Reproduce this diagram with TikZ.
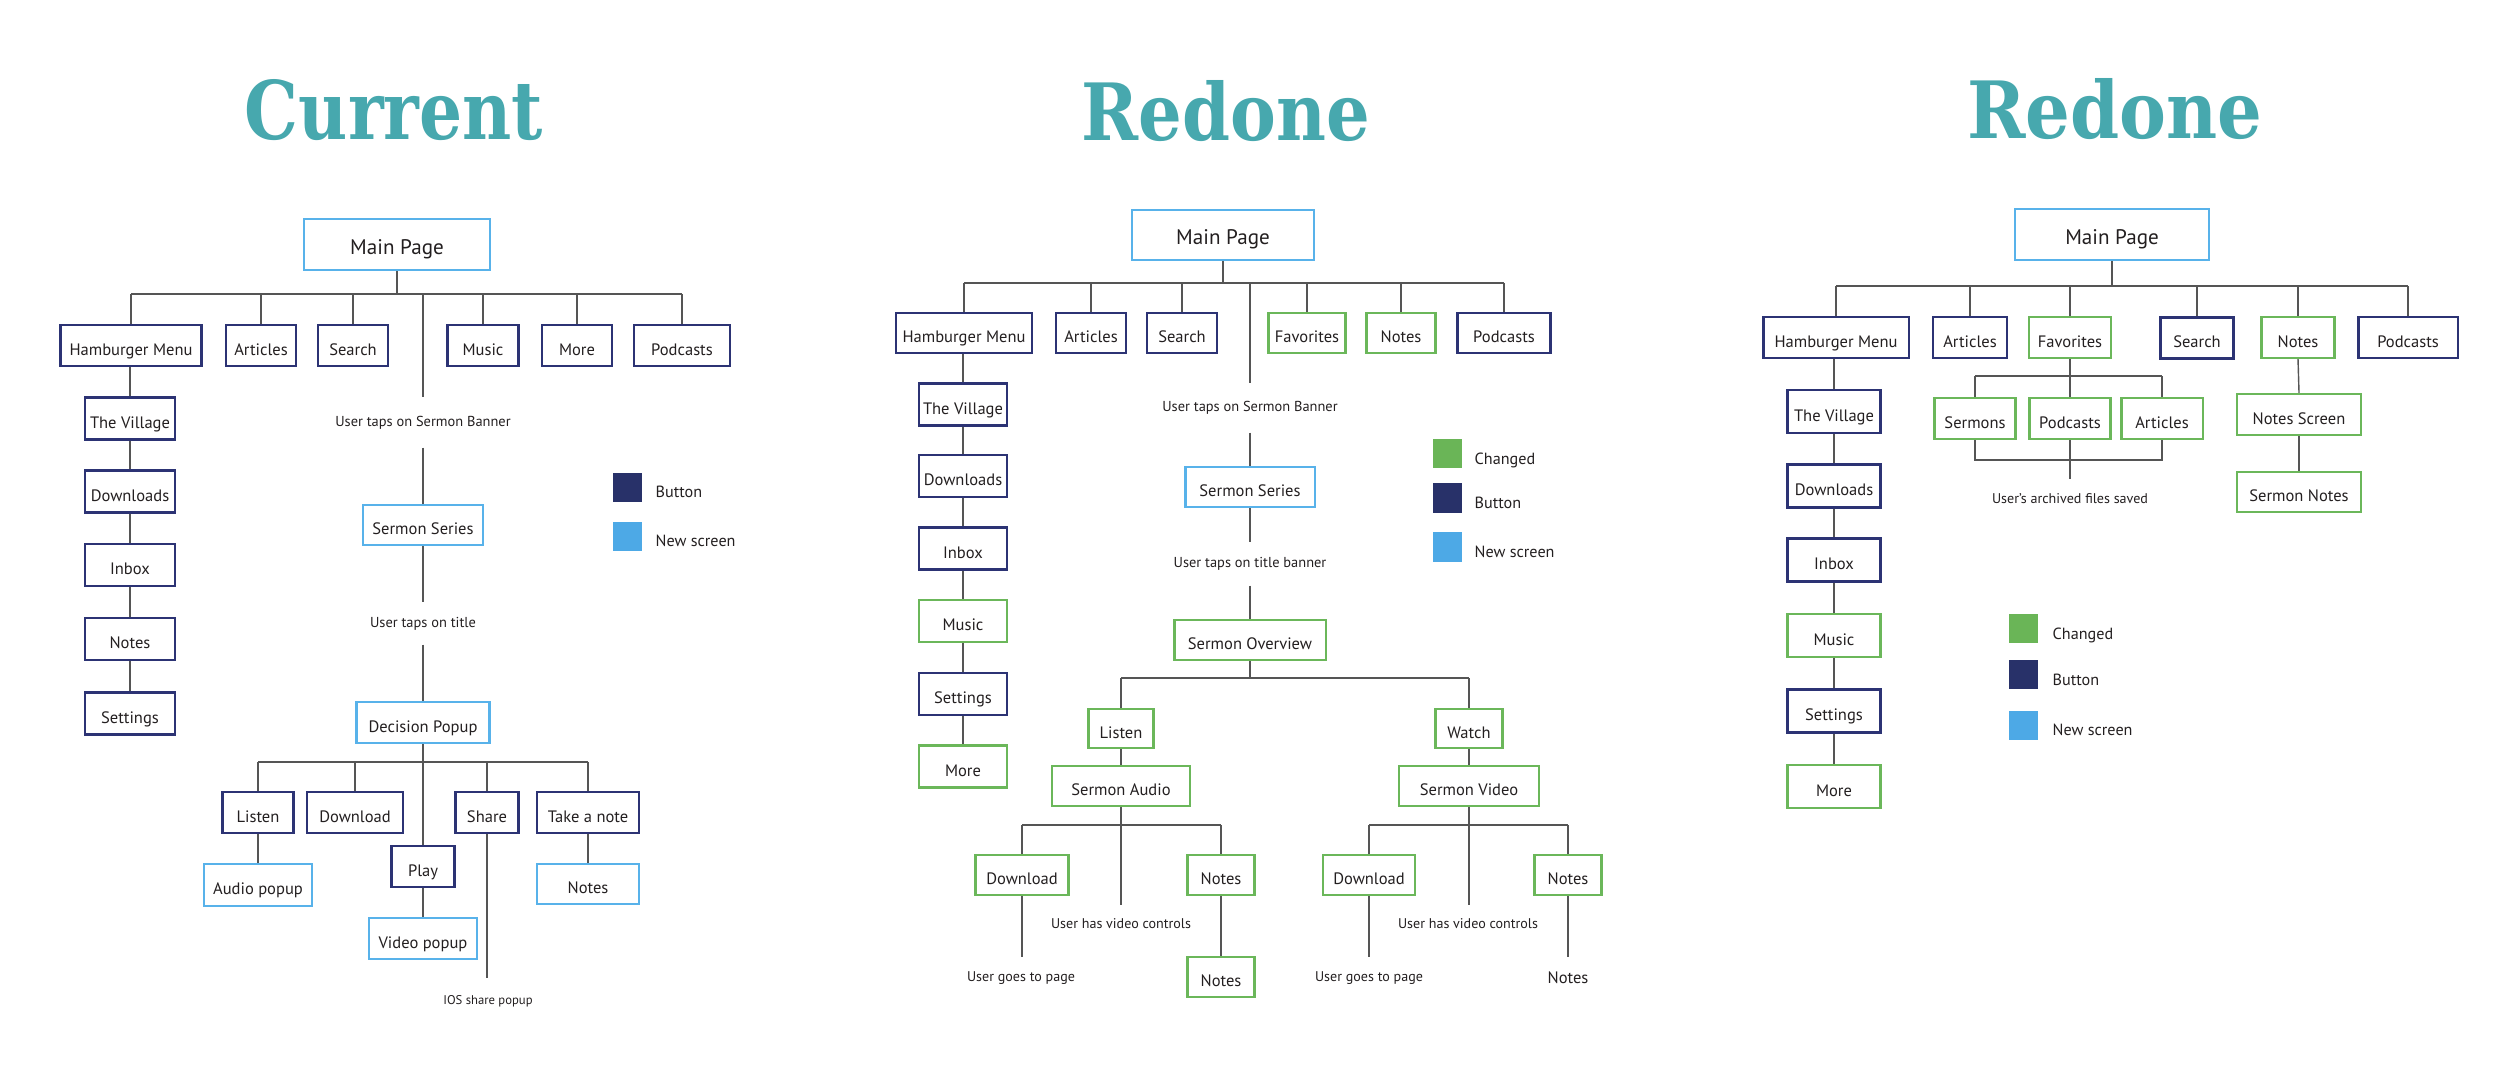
\documentclass[tikz,border=0pt]{standalone}
\usepackage{fontspec}
\usepackage{graphicx}
\setmainfont{PT Sans}
\newfontfamily\titlefont{DejaVu Serif}
\definecolor{teal}{HTML}{47A8AE}
\definecolor{navy}{HTML}{2C3374}
\definecolor{navyf}{HTML}{283169}
\definecolor{skyb}{HTML}{58B2EA}
\definecolor{skyf}{HTML}{4DA9E6}
\definecolor{grn}{HTML}{6BB75A}
\definecolor{grnf}{HTML}{6AB557}
\definecolor{linec}{HTML}{555555}
\definecolor{txt}{HTML}{231F20}
\begin{document}
\begin{tikzpicture}[x=0.01cm,y=-0.01cm,
  bx/.style={draw, line width=0.6pt, inner sep=0pt, text=txt, font=\fontsize{4.7}{5.6}\selectfont, text height=1.45ex, text depth=0.35ex, align=center},
  nv/.style={bx, draw=navy},
  sc/.style={bx, draw=skyb},
  gr/.style={bx, draw=grn},
  bw/.style={minimum width=0.1mm*#1},
  bh/.style={minimum height=0.1mm*#1},
  conn/.style={draw=linec, line width=0.4pt},
  lbl/.style={inner sep=0pt, text=txt, font=\fontsize{4.1}{5}\selectfont},
  leg/.style={inner sep=0pt, minimum size=0.1mm*29},
  legt/.style={anchor=west, inner sep=0pt, font=\fontsize{4.6}{5.5}\selectfont, text=txt, text height=1.45ex, text depth=0.35ex},
  tt/.style={anchor=base, inner sep=0pt, text=teal}
]
\useasboundingbox (0,0) rectangle (2500,1079);

% ================= Panel 1: Current =================
\node[tt] (t1) at (394,140) {\resizebox{2.98cm}{0.60cm}{\titlefont\bfseries Current}};
\node[sc, bw=186, bh=51, font=\fontsize{6}{7}\selectfont] (mp1) at (397,244.5) {Main Page};
\coordinate (b1) at (0,294);
\node[nv, bw=141, bh=41] (hm1) at (131,345.5) {Hamburger Menu};
\node[nv, bw=70, bh=41] (art1) at (261,345.5) {Articles};
\node[nv, bw=70, bh=41] (sea1) at (353,345.5) {Search};
\node[nv, bw=71, bh=41] (mus1) at (483,345.5) {Music};
\node[nv, bw=70, bh=41] (more1) at (577,345.5) {More};
\node[nv, bw=96, bh=41] (pod1) at (682,345.5) {Podcasts};
\draw[conn] (mp1.south) -- (mp1.south |- b1);
\draw[conn] (hm1.north |- b1) -- (pod1.north |- b1);
\foreach \n in {hm1,art1,sea1,mus1,more1,pod1} \draw[conn] (\n.north) -- (\n.north |- b1);

\node[nv, bw=90, bh=42] (vil1) at (130,418.5) {The Village};
\node[nv, bw=90, bh=42] (dlc1) at (130,491.5) {Downloads};
\node[nv, bw=90, bh=42] (inb1) at (130,565) {Inbox};
\node[nv, bw=90, bh=42] (nts1) at (130,639) {Notes};
\node[nv, bw=90, bh=42] (set1) at (130,713.5) {Settings};
\draw[conn] (vil1.north |- hm1.south) -- (vil1.north);
\draw[conn] (vil1.south) -- (dlc1.north);
\draw[conn] (dlc1.south) -- (inb1.north);
\draw[conn] (inb1.south) -- (nts1.north);
\draw[conn] (nts1.south) -- (set1.north);

\node[lbl, minimum height=0.1mm*49] (u1) at (423,422.5) {User taps on Sermon Banner};
\draw[conn] (u1.north |- b1) -- (u1.north);
\node[sc, bw=120, bh=40] (ss1) at (423,525) {Sermon Series};
\draw[conn] (u1.south) -- (ss1.north);
\node[lbl, minimum height=0.1mm*41] (u2) at (423,623.5) {User taps on title};
\draw[conn] (ss1.south) -- (u2.north);
\node[sc, bw=133, bh=41] (dp1) at (423,722.5) {Decision Popup};
\draw[conn] (u2.south) -- (dp1.north);

\coordinate (b2) at (0,762);
\node[nv, bw=71, bh=41] (lis1) at (258,812.5) {Listen};
\node[nv, bw=96, bh=41] (dl1) at (355,812.5) {Download};
\node[nv, bw=63, bh=41] (sh1) at (487,812.5) {Share};
\node[nv, bw=102, bh=41] (tn1) at (588,812.5) {Take a note};
\draw[conn] (lis1.north |- b2) -- (tn1.north |- b2);
\foreach \n in {lis1,dl1,sh1,tn1} \draw[conn] (\n.north) -- (\n.north |- b2);
\node[nv, bw=63, bh=41] (play1) at (423,866.5) {Play};
\draw[conn] (dp1.south) -- (play1.north);
\node[sc, bw=108, bh=41] (vp1) at (423,938.5) {Video popup};
\draw[conn] (play1.south) -- (vp1.north);
\node[sc, bw=108, bh=42] (ap1) at (258,885) {Audio popup};
\draw[conn] (lis1.south) -- (ap1.north);
\node[sc, bw=102, bh=40] (ntp1) at (588,884) {Notes};
\draw[conn] (tn1.south) -- (ntp1.north);
\coordinate (e1) at (487,978);
\draw[conn] (sh1.south) -- (e1);
\node[lbl, font=\fontsize{3.6}{4.5}\selectfont] (ios) at (488,1001) {IOS share popup};

\node[leg, fill=navyf] (lb1) at (627.5,487.5) {};
\node[legt] (lbt1) at (655,488) {Button};
\node[leg, fill=skyf] (ln1) at (627.5,536.5) {};
\node[legt] (lnt1) at (655,537) {New screen};

% ================= Panel 2: Redone =================
\node[tt] (t2) at (1226,140) {\resizebox{2.88cm}{0.60cm}{\titlefont\bfseries Redone}};
\node[sc, bw=182, bh=50, font=\fontsize{6}{7}\selectfont] (mp2) at (1223,235) {Main Page};
\coordinate (c1) at (0,283);
\node[nv, bw=136, bh=40] (hm2) at (964,333) {Hamburger Menu};
\node[nv, bw=70, bh=40] (art2) at (1091,333) {Articles};
\node[nv, bw=70, bh=40] (sea2) at (1182,333) {Search};
\node[gr, bw=77, bh=40] (fav2) at (1307,333) {Favorites};
\node[gr, bw=69, bh=40] (not2) at (1401,333) {Notes};
\node[nv, bw=93, bh=40] (pod2) at (1504,333) {Podcasts};
\draw[conn] (mp2.south) -- (mp2.south |- c1);
\draw[conn] (hm2.north |- c1) -- (pod2.north |- c1);
\foreach \n in {hm2,art2,sea2,fav2,not2,pod2} \draw[conn] (\n.north) -- (\n.north |- c1);

\node[nv, bw=88, bh=42] (vil2) at (963,404.5) {The Village};
\node[nv, bw=88, bh=42] (dlc2) at (963,476) {Downloads};
\node[nv, bw=88, bh=42] (inb2) at (963,548.5) {Inbox};
\node[gr, bw=88, bh=42] (mus2) at (963,621) {Music};
\node[nv, bw=88, bh=42] (set2) at (963,694) {Settings};
\node[gr, bw=88, bh=42] (more2) at (963,766.5) {More};
\draw[conn] (vil2.north |- hm2.south) -- (vil2.north);
\draw[conn] (vil2.south) -- (dlc2.north);
\draw[conn] (dlc2.south) -- (inb2.north);
\draw[conn] (inb2.south) -- (mus2.north);
\draw[conn] (mus2.south) -- (set2.north);
\draw[conn] (set2.south) -- (more2.north);

\node[lbl, minimum height=0.1mm*48] (v1) at (1250,408) {User taps on Sermon Banner};
\draw[conn] (v1.north |- c1) -- (v1.north);
\node[sc, bw=129, bh=40] (ss2) at (1250,487) {Sermon Series};
\draw[conn] (v1.south) -- (ss2.north);
\node[lbl, minimum height=0.1mm*42] (v2) at (1250,564) {User taps on title banner};
\draw[conn] (ss2.south) -- (v2.north);
\node[gr, bw=151, bh=40] (so2) at (1250,640) {Sermon Overview};
\draw[conn] (v2.south) -- (so2.north);

\coordinate (c2) at (0,678);
\node[gr, bw=65, bh=39] (lis2) at (1121,728.5) {Listen};
\node[gr, bw=67, bh=39] (wat2) at (1469,728.5) {Watch};
\draw[conn] (so2.south) -- (so2.south |- c2);
\draw[conn] (lis2.north |- c2) -- (wat2.north |- c2);
\draw[conn] (lis2.north) -- (lis2.north |- c2);
\draw[conn] (wat2.north) -- (wat2.north |- c2);
\node[gr, bw=138, bh=40] (sa2) at (1121,786) {Sermon Audio};
\node[gr, bw=140, bh=40] (sv2) at (1469,786) {Sermon Video};
\draw[conn] (lis2.south) -- (sa2.north);
\draw[conn] (wat2.south) -- (sv2.north);

\coordinate (c3) at (0,825);
\node[gr, bw=93, bh=40] (dla2) at (1022,875) {Download};
\node[gr, bw=67, bh=40] (nta2) at (1221,875) {Notes};
\draw[conn] (dla2.north |- c3) -- (nta2.north |- c3);
\draw[conn] (dla2.north) -- (dla2.north |- c3);
\draw[conn] (nta2.north) -- (nta2.north |- c3);
\coordinate (ea1) at (1121,905);
\draw[conn] (sa2.south) -- (ea1);
\node[lbl, font=\fontsize{4}{5}\selectfont] (hv1) at (1121,924) {User has video controls};
\coordinate (ea2) at (1022,957);
\draw[conn] (dla2.south) -- (ea2);
\node[lbl, font=\fontsize{4}{5}\selectfont] (gp1) at (1021,978) {User goes to page};
\node[gr, bw=67, bh=40] (ntb2) at (1221,977) {Notes};
\draw[conn] (nta2.south) -- (ntb2.north);

\node[gr, bw=92, bh=40] (dlv2) at (1369,875) {Download};
\node[gr, bw=67, bh=40] (ntv2) at (1568,875) {Notes};
\draw[conn] (dlv2.north |- c3) -- (ntv2.north |- c3);
\draw[conn] (dlv2.north) -- (dlv2.north |- c3);
\draw[conn] (ntv2.north) -- (ntv2.north |- c3);
\coordinate (ev1) at (1469,905);
\draw[conn] (sv2.south) -- (ev1);
\node[lbl, font=\fontsize{4}{5}\selectfont] (hv2) at (1468,924) {User has video controls};
\coordinate (ev2) at (1369,957);
\draw[conn] (dlv2.south) -- (ev2);
\node[lbl, font=\fontsize{4}{5}\selectfont] (gp2) at (1369,978) {User goes to page};
\coordinate (ev3) at (1568,957);
\draw[conn] (ntv2.south) -- (ev3);
\node[lbl, font=\fontsize{4.7}{5.6}\selectfont] (ntl2) at (1568,978) {Notes};

\node[leg, fill=grnf] (lc2) at (1447.5,453.5) {};
\node[legt] (lct2) at (1474,455) {Changed};
\node[leg, fill=navyf] (lb2) at (1447.5,498) {};
\node[legt] (lbt2) at (1474,499) {Button};
\node[leg, fill=skyf] (ln2) at (1447.5,547) {};
\node[legt] (lnt2) at (1474,548) {New screen};

% ================= Panel 3: Redone =================
\node[tt] (t3) at (2115,139) {\resizebox{2.95cm}{0.60cm}{\titlefont\bfseries Redone}};
\node[sc, bw=194, bh=51, font=\fontsize{6}{7}\selectfont] (mp3) at (2112,234.5) {Main Page};
\coordinate (d1) at (0,286);
\node[nv, bw=145, bh=41] (hm3) at (1836,337.5) {Hamburger Menu};
\node[nv, bw=74, bh=41] (art3) at (1970,337.5) {Articles};
\node[gr, bw=82, bh=41] (fav3) at (2070,337.5) {Favorites};
\node[nv, bw=73, bh=41] (sea3) at (2197,338) {Search};
\node[gr, bw=73, bh=41] (not3) at (2298,337.5) {Notes};
\node[nv, bw=99, bh=41] (pod3) at (2408,337.5) {Podcasts};
\draw[conn] (mp3.south) -- (mp3.south |- d1);
\draw[conn] (hm3.north |- d1) -- (pod3.north |- d1);
\foreach \n in {hm3,art3,fav3,sea3,not3,pod3} \draw[conn] (\n.north) -- (\n.north |- d1);

\node[nv, bw=93, bh=43] (vil3) at (1834,411.5) {The Village};
\node[nv, bw=93, bh=43] (dlc3) at (1834,486) {Downloads};
\node[nv, bw=93, bh=43] (inb3) at (1834,560) {Inbox};
\node[gr, bw=93, bh=43] (mus3) at (1834,635.5) {Music};
\node[nv, bw=93, bh=43] (set3) at (1834,711) {Settings};
\node[gr, bw=93, bh=43] (more3) at (1834,786.5) {More};
\draw[conn] (vil3.north |- hm3.south) -- (vil3.north);
\draw[conn] (vil3.south) -- (dlc3.north);
\draw[conn] (dlc3.south) -- (inb3.north);
\draw[conn] (inb3.south) -- (mus3.north);
\draw[conn] (mus3.south) -- (set3.north);
\draw[conn] (set3.south) -- (more3.north);

\coordinate (d2) at (0,376);
\coordinate (d3) at (0,460);
\node[gr, bw=81, bh=41] (ser3) at (1975,418.5) {Sermons};
\node[gr, bw=81, bh=41] (podc3) at (2070,418.5) {Podcasts};
\node[gr, bw=81, bh=41] (artc3) at (2162,418.5) {Articles};
\draw[conn] (fav3.south) -- (podc3.north);
\draw[conn] (ser3.north |- d2) -- (artc3.north |- d2);
\draw[conn] (ser3.north) -- (ser3.north |- d2);
\draw[conn] (artc3.north) -- (artc3.north |- d2);
\draw[conn] (ser3.south) -- (ser3.south |- d3) -- (artc3.south |- d3) -- (artc3.south);
\coordinate (f1) at (2070,479);
\draw[conn] (podc3.south) -- (f1);
\node[lbl, font=\fontsize{4}{5}\selectfont] (arc3) at (2070,499) {User’s archived files saved};

\node[gr, bw=124, bh=41] (ns3) at (2299,414.5) {Notes Screen};
\node[gr, bw=124, bh=40] (sn3) at (2299,492) {Sermon Notes};
\draw[conn] (not3.south) -- (ns3.north);
\draw[conn] (ns3.south) -- (sn3.north);

\node[leg, fill=grnf] (lc3) at (2023.5,628.5) {};
\node[legt] (lct3) at (2052,630) {Changed};
\node[leg, fill=navyf] (lb3) at (2023.5,674.5) {};
\node[legt] (lbt3) at (2052,676) {Button};
\node[leg, fill=skyf] (ln3) at (2023.5,725.5) {};
\node[legt] (lnt3) at (2052,726) {New screen};
\end{tikzpicture}
\end{document}
